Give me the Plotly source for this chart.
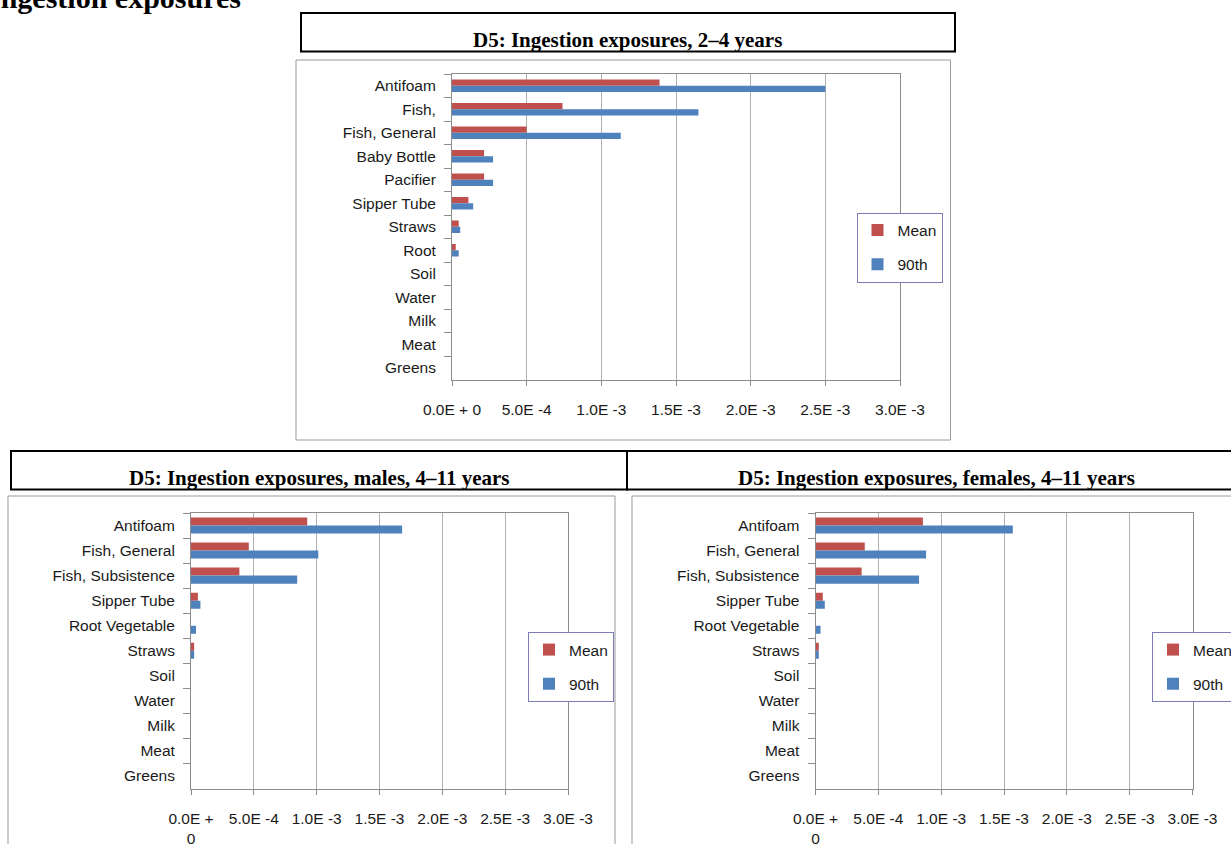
import plotly.graph_objects as go

# ---- data -------------------------------------------------------------
cats_2_4 = ["Antifoam", "Fish,", "Fish, General", "Baby Bottle", "Pacifier",
            "Sipper Tube", "Straws", "Root", "Soil", "Water", "Milk", "Meat", "Greens"]
mean_2_4 = [1.39e-3, 7.4e-4, 5.0e-4, 2.15e-4, 2.15e-4, 1.1e-4, 4.5e-5, 2.5e-5, 0, 0, 0, 0, 0]
p90_2_4 = [2.5e-3, 1.65e-3, 1.13e-3, 2.75e-4, 2.75e-4, 1.42e-4, 5.5e-5, 4.5e-5, 0, 0, 0, 0, 0]

cats_4_11 = ["Antifoam", "Fish, General", "Fish, Subsistence", "Sipper Tube", "Root Vegetable",
             "Straws", "Soil", "Water", "Milk", "Meat", "Greens"]
mean_males = [9.25e-4, 4.6e-4, 3.85e-4, 5.5e-5, 0, 2.5e-5, 0, 0, 0, 0, 0]
p90_males = [1.68e-3, 1.013e-3, 8.45e-4, 7.5e-5, 4.0e-5, 2.5e-5, 0, 0, 0, 0, 0]
mean_females = [8.55e-4, 3.92e-4, 3.67e-4, 5.8e-5, 0, 2.6e-5, 0, 0, 0, 0, 0]
p90_females = [1.57e-3, 8.8e-4, 8.24e-4, 7.4e-5, 4.0e-5, 2.6e-5, 0, 0, 0, 0, 0]

tick_vals = [0, 5e-4, 1e-3, 1.5e-3, 2e-3, 2.5e-3, 3e-3]
tick_text_top = ["0.0E + 0", "5.0E -4", "1.0E -3", "1.5E -3", "2.0E -3", "2.5E -3", "3.0E -3"]
tick_text_bottom = ["0.0E +<br>0", "5.0E -4", "1.0E -3", "1.5E -3", "2.0E -3", "2.5E -3", "3.0E -3"]

titles = ["D5: Ingestion exposures, 2\u20134 years",
          "D5: Ingestion exposures, males, 4\u201311 years",
          "D5: Ingestion exposures, females, 4\u201311 years"]

# ---- styling ----------------------------------------------------------
W, H = 1231, 844
RED, BLUE = "#C0504D", "#4F81BD"
SANS = "Liberation Sans, Arial, sans-serif"
LABEL_FONT = dict(family=SANS, size=15.5, color="#1a1a1a")
TITLE_FONT = "Liberation Serif, Times New Roman, serif"
AXIS_GREY, GRID_GREY = "#8c8c8c", "#b0b0b0"


def px(x):
    return x / W


def py(y):
    return 1 - y / H


fig = go.Figure()

panels = [
    # (x-axis id, y-axis id, legend id, categories, mean, p90, x-domain px, y-domain px, bar width, tick text)
    ("x", "y", "legend", cats_2_4, mean_2_4, p90_2_4, (452, 900), (74, 379.5), 0.27, tick_text_top),
    ("x2", "y2", "legend2", cats_4_11, mean_males, p90_males, (191, 568), (513, 788.5), 0.32, tick_text_bottom),
    ("x3", "y3", "legend3", cats_4_11, mean_females, p90_females, (815.5, 1192.5), (513, 788.5), 0.32, tick_text_bottom),
]

legend_pos = [(856.5, 212.5), (528, 632), (1152, 632)]

for i, (xa, ya, lg, cats, mean, p90, xd, yd, bw, ttext) in enumerate(panels):
    fig.add_trace(go.Bar(y=cats, x=mean, orientation="h", name="Mean", marker_color=RED,
                         width=bw, offset=-bw, xaxis=xa, yaxis=ya, legend=lg,
                         legendgroup=f"m{i}", marker_line_width=0))
    fig.add_trace(go.Bar(y=cats, x=p90, orientation="h", name="90th", marker_color=BLUE,
                         width=bw, offset=0, xaxis=xa, yaxis=ya, legend=lg,
                         legendgroup=f"p{i}", marker_line_width=0))

    suffix = "" if i == 0 else str(i + 1)
    fig.update_layout(**{
        f"xaxis{suffix}": dict(
            domain=[px(xd[0]), px(xd[1])], anchor=ya, range=[0, 3e-3], automargin=False,
            tickvals=tick_vals, ticktext=ttext, showgrid=True, gridcolor=GRID_GREY, gridwidth=1,
            showline=True, linecolor=AXIS_GREY, linewidth=1, mirror=True,
            ticks="outside", ticklen=5, tickcolor=AXIS_GREY, tickfont=LABEL_FONT,
            ticklabelstandoff=11, zeroline=False, fixedrange=True),
        f"yaxis{suffix}": dict(
            domain=[py(yd[1]), py(yd[0])], anchor=xa, type="category", automargin=False,
            categoryorder="array", categoryarray=cats, range=[len(cats) - 0.5, -0.5],
            showgrid=False, showline=True, linecolor=AXIS_GREY, linewidth=1, mirror=True,
            ticks="outside", ticklen=7, tickcolor=AXIS_GREY, tickson="boundaries",
            tickfont=LABEL_FONT, ticklabelstandoff=12, fixedrange=True),
    })

    lx, ly = legend_pos[i]
    fig.update_layout(**{
        lg: dict(x=px(lx), y=py(ly), xref="container", yref="container",
                 xanchor="left", yanchor="top",
                 bordercolor="#7b7bb5", borderwidth=1, bgcolor="white",
                 font=dict(family=SANS, size=15.5, color="#1a1a1a"),
                 traceorder="grouped", tracegroupgap=11, itemclick=False, itemdoubleclick=False)
    })

shapes = []
# outer chart frames
for x0, y0, x1, y1 in [(296, 60, 950.5, 440), (8, 496, 615, 850), (632, 496, 1240, 850)]:
    shapes.append(dict(type="rect", xref="paper", yref="paper", x0=px(x0), x1=px(x1),
                       y0=py(y1), y1=py(y0), line=dict(color="#9a9a9a", width=1),
                       fillcolor="rgba(0,0,0,0)", layer="below"))
# title boxes
for x0, y0, x1, y1 in [(301, 13, 955, 51.5), (11, 451, 627, 489.5), (627, 451, 1245, 489.5)]:
    shapes.append(dict(type="rect", xref="paper", yref="paper", x0=px(x0), x1=px(x1),
                       y0=py(y1), y1=py(y0), line=dict(color="black", width=2),
                       fillcolor="rgba(0,0,0,0)"))

annotations = []
for text, cx, cy in [(titles[0], 627.5, 40.5), (titles[1], 320, 478), (titles[2], 936, 478)]:
    annotations.append(dict(text=f"<b>{text}</b>", xref="paper", yref="paper",
                            x=px(cx), y=py(cy), xanchor="center", yanchor="middle",
                            showarrow=False, font=dict(family=TITLE_FONT, size=21, color="black")))
# section heading at the top of the page
annotations.append(dict(text="<b>Ingestion exposures</b>", xref="paper", yref="paper",
                        x=px(-13), y=py(-3), xanchor="left", yanchor="middle", showarrow=False,
                        font=dict(family=TITLE_FONT, size=30, color="black")))

fig.update_layout(
    width=W, height=H, margin=dict(l=0, r=0, t=0, b=0, autoexpand=False),
    paper_bgcolor="white", plot_bgcolor="white",
    barmode="group", showlegend=True,
    shapes=shapes, annotations=annotations,
)

fig.write_html("out.html", config={"displayModeBar": False})
